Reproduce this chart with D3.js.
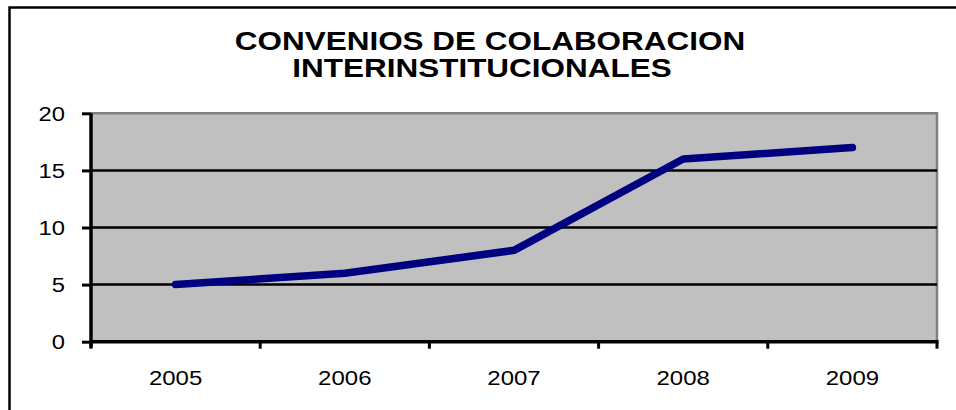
<!DOCTYPE html>
<html>
<head>
<meta charset="utf-8">
<script src="https://cdn.jsdelivr.net/npm/d3@7"></script>
<style>
  body { margin: 0; background: #fff; }
  svg { display: block; font-family: "Liberation Sans", Arial, sans-serif; }
</style>
</head>
<body>
<div id="chart"></div>
<script>
const years = ["2005", "2006", "2007", "2008", "2009"];
const convenios = [5, 6, 8, 16, 17];
const yTicks = [0, 5, 10, 15, 20];
const titleLines = ["CONVENIOS DE COLABORACION", "INTERINSTITUCIONALES"];

const width = 956, height = 410;
const plot = { left: 91, right: 937, top: 113.3, bottom: 341.7 };

const svg = d3.select("#chart").append("svg")
    .attr("width", width)
    .attr("height", height);

// outer frame (only left/top visible in picture)
svg.append("rect")
    .attr("x", 9.5).attr("y", 7.5)
    .attr("width", 980).attr("height", 440)
    .attr("fill", "none")
    .attr("stroke", "#000")
    .attr("stroke-width", 2.5);

// stretch text horizontally like the original
function stretch(sel, k) {
    sel.each(function () {
        const w = this.getComputedTextLength();
        d3.select(this)
            .attr("textLength", w * k)
            .attr("lengthAdjust", "spacingAndGlyphs");
    });
}

// title, one text with two lines
const title = svg.append("text")
    .attr("text-anchor", "middle")
    .style("font-size", "26px")
    .style("font-weight", "bold");
title.selectAll("tspan")
    .data(titleLines)
    .join("tspan")
    .attr("x", (d, i) => i == 0 ? 490 : 482)
    .attr("y", (d, i) => i == 0 ? 50 : 77)
    .text(d => d)
    .call(stretch, 1.21);

const x = d3.scaleBand()
    .domain(years)
    .range([plot.left, plot.right])
    .padding(0);

const y = d3.scaleLinear()
    .domain([0, 20])
    .range([plot.bottom, plot.top]);

// plot background
svg.append("rect")
    .attr("x", plot.left).attr("y", plot.top)
    .attr("width", plot.right - plot.left)
    .attr("height", plot.bottom - plot.top)
    .attr("fill", "#c0c0c0");

// gray border top + right
svg.append("path")
    .attr("d", `M${plot.left},${plot.top}H${plot.right}V${plot.bottom}`)
    .attr("fill", "none")
    .attr("stroke", "#808080")
    .attr("stroke-width", 2.5);

// gridlines
svg.append("g")
    .selectAll("line")
    .data(yTicks.filter(d => d > 0 && d < 20))
    .join("line")
    .attr("x1", plot.left).attr("x2", plot.right)
    .attr("y1", d => y(d)).attr("y2", d => y(d))
    .attr("stroke", "#000")
    .attr("stroke-width", 2.5);

// y axis
const yAxis = svg.append("g")
    .attr("transform", `translate(${plot.left},0)`)
    .call(d3.axisLeft(y).tickValues(yTicks).tickSize(9).tickPadding(17));
yAxis.select(".domain").attr("stroke-width", 3.5).attr("d", `M0,${plot.top}V${plot.bottom + 6}`);
yAxis.selectAll(".tick line").attr("stroke-width", 3);
yAxis.selectAll(".tick text")
    .attr("font-family", null).attr("font-size", null)
    .style("font-size", "19.5px")
    .attr("fill", "#000")
    .attr("dy", "0.36em")
    .call(stretch, 1.22);

// x axis with ticks at category boundaries
const bounds = years.map(d => x(d)).concat([plot.right]);
svg.append("line")
    .attr("x1", plot.left - 1.5).attr("x2", plot.right + 1.5)
    .attr("y1", plot.bottom).attr("y2", plot.bottom)
    .attr("stroke", "#000")
    .attr("stroke-width", 3.5);
svg.append("g")
    .selectAll("line")
    .data(bounds)
    .join("line")
    .attr("x1", d => d).attr("x2", d => d)
    .attr("y1", plot.bottom).attr("y2", plot.bottom + 7)
    .attr("stroke", "#000")
    .attr("stroke-width", 3);

svg.append("g")
    .selectAll("text")
    .data(years)
    .join("text")
    .attr("x", d => x(d) + x.bandwidth() / 2)
    .attr("y", 385)
    .attr("text-anchor", "middle")
    .style("font-size", "20.5px")
    .text(d => d)
    .call(stretch, 1.17);

// series line
const line = d3.line()
    .x((d, i) => x(years[i]) + x.bandwidth() / 2)
    .y(d => y(d));

svg.append("path")
    .datum(convenios)
    .attr("d", line)
    .attr("fill", "none")
    .attr("stroke", "#000080")
    .attr("stroke-width", 7.5)
    .attr("stroke-linecap", "round")
    .attr("stroke-linejoin", "round");
</script>
</body>
</html>
